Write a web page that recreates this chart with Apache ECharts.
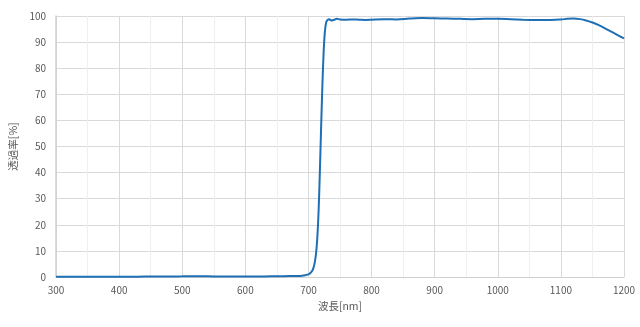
<!DOCTYPE html>
<html><head><meta charset="utf-8">
<script src="https://cdn.jsdelivr.net/npm/echarts@6/dist/echarts.min.js"></script>
<style>html,body{margin:0;padding:0;background:#fff}#c{width:640px;height:327px}</style>
</head><body><div id="c"></div>
<script>
const wavelength = [300,320,340,360,380,400,420,440,460,480,500,520,540,560,580,600,620,640,660,680,690,695,700,703,706,708,710,712,714,716,718,720,722,724,726,728,730,733,736,740,745,750,760,770,780,790,800,820,840,860,880,900,920,940,960,980,1000,1020,1040,1060,1080,1100,1110,1120,1130,1140,1150,1160,1170,1180,1190,1200];
const transmittance = [0.1,0.1,0.1,0.1,0.1,0.1,0.1,0.15,0.15,0.2,0.25,0.3,0.25,0.2,0.2,0.2,0.2,0.25,0.3,0.4,0.5,0.7,1.0,1.5,2.4,3.6,5.6,9,15,25,40,57,73,86,94,97.5,98.4,98.8,98.3,98.5,98.9,98.7,98.6,98.7,98.6,98.5,98.6,98.8,98.7,99.0,99.2,99.1,99.0,98.9,98.8,98.9,98.9,98.8,98.6,98.5,98.5,98.7,98.9,99.0,98.8,98.3,97.5,96.5,95.3,94.0,92.7,91.4];
const xTicks = [300,400,500,600,700,800,900,1000,1100,1200];
const yTicks = [0,10,20,30,40,50,60,70,80,90,100];
const xName = '波長[nm]';
const yName = '透過率[%]';

const chart = echarts.init(document.getElementById('c'));
const font = '"Noto Sans CJK JP", "Noto Sans", sans-serif';
chart.setOption({
  animation:false,
  grid:{left:54,right:16,top:16,bottom:50},
  xAxis:{type:'value',min:xTicks[0],max:xTicks[xTicks.length-1],interval:100,
    name:xName,nameLocation:'middle',nameGap:24,
    nameTextStyle:{color:'#595959',fontSize:10.5,fontFamily:font},
    axisLine:{show:true,lineStyle:{color:'#d0d0d0',width:1}},
    axisTick:{show:false},
    axisLabel:{color:'#595959',fontSize:10,fontFamily:font,margin:8,formatter:v=>String(v)},
    splitLine:{show:true,lineStyle:{color:'#d9d9d9',width:1}},
    minorTick:{show:false,splitNumber:2},
    minorSplitLine:{show:true,lineStyle:{color:'#efefef',width:1}}
  },
  yAxis:{type:'value',min:yTicks[0],max:yTicks[yTicks.length-1],interval:10,
    name:yName,nameLocation:'middle',nameGap:32,nameRotate:90,
    nameTextStyle:{color:'#595959',fontSize:10.5,fontFamily:font},
    axisLine:{show:true,lineStyle:{color:'#d0d0d0',width:1.5}},
    axisTick:{show:false},
    axisLabel:{color:'#595959',fontSize:10,fontFamily:font,margin:10,formatter:v=>String(v)},
    splitLine:{show:true,lineStyle:{color:'#d9d9d9',width:1}}
  },
  series:[{type:'line',data:wavelength.map((w,i)=>[w,transmittance[i]]),
    showSymbol:false,smooth:0.3,
    lineStyle:{color:'#1f6fb5',width:2}}]
});
</script></body></html>
